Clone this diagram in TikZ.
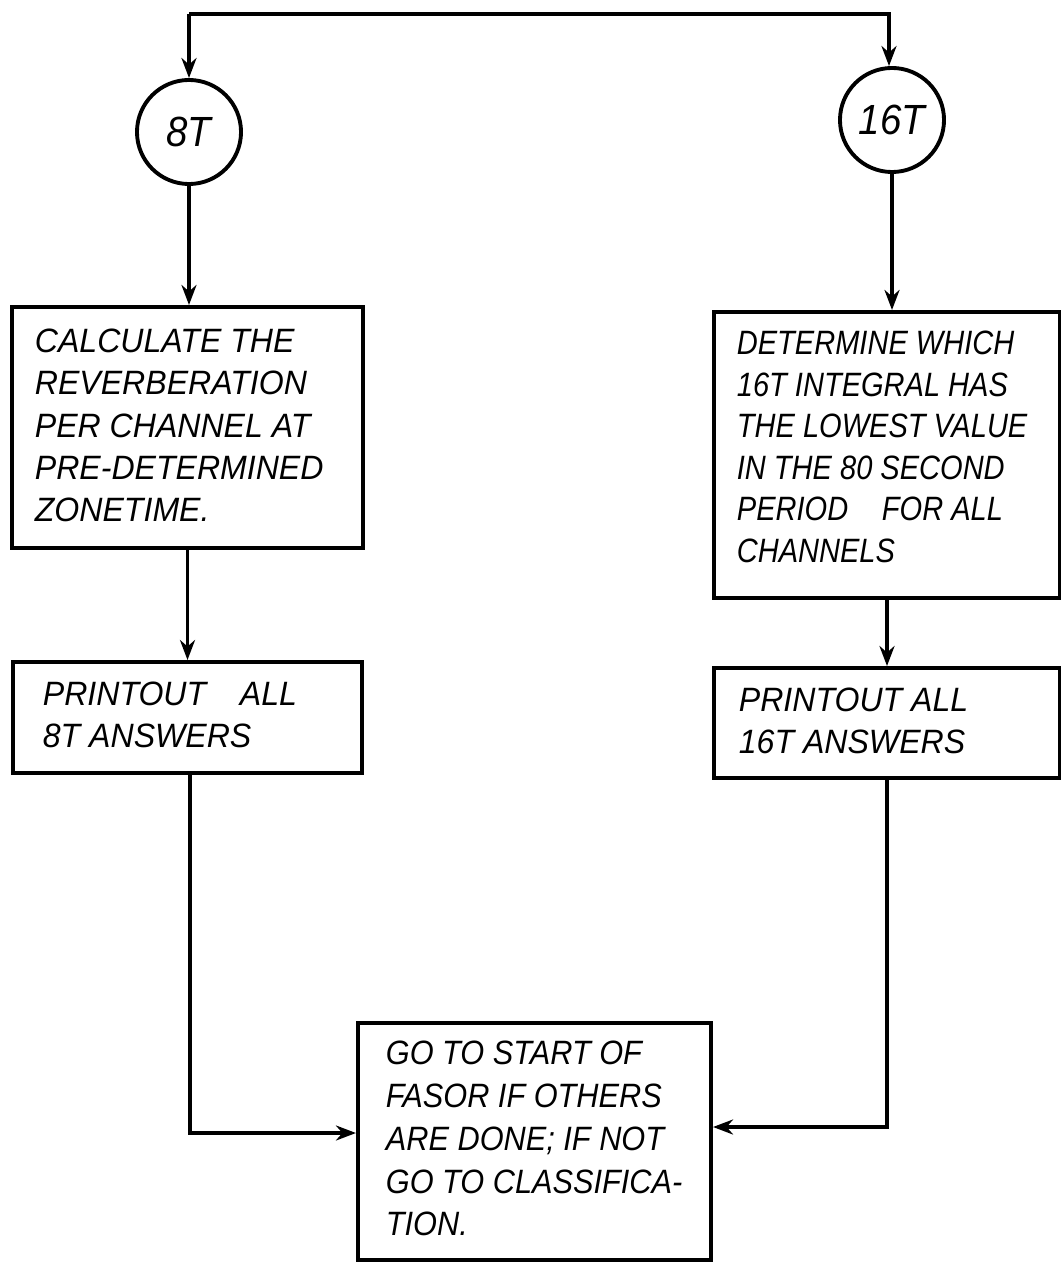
\documentclass[tikz,border=0pt]{standalone}
\usepackage{fontspec}
\setmainfont{Liberation Sans}
\newfontfamily\handA[FakeStretch=0.95]{Liberation Sans}
\newfontfamily\handB[FakeStretch=0.86]{Liberation Sans}
\newfontfamily\handC[FakeStretch=0.91]{Liberation Sans}
\usetikzlibrary{arrows.meta,calc}
\begin{document}
\begin{tikzpicture}[x=0.01cm,y=-0.01cm,
  line width=1.1pt,
  box/.style={draw, rectangle, inner sep=0pt},
  txt/.style={anchor=west, align=left, inner sep=0pt, font=\handA\itshape\fontsize{9.6}{12}\selectfont},
  txtn/.style={txt, font=\handB\itshape\fontsize{9.6}{11.8}\selectfont},
  txtm/.style={txt, font=\handC\itshape\fontsize{9.6}{12.2}\selectfont},
  conn/.style={circle, draw, minimum size=1.04cm, inner sep=0pt, font=\handC\itshape\fontsize{12}{14}\selectfont},
  arr/.style={-{Stealth[length=0.2cm,width=0.15cm]}}]
\useasboundingbox (0,0) rectangle (1061,1264);
% circles
\node[conn] (c8) at (189,132) {8T};
\node[conn] (c16) at (892,120) {16T};
% boxes
\node[box, minimum width=3.51cm, minimum height=2.41cm] (b1) at (187.5,427.5) {};
\node[box, minimum width=3.49cm, minimum height=1.11cm] (b2) at (187.5,717.5) {};
\node[box, minimum width=3.46cm, minimum height=2.86cm] (b3) at (887,455) {};
\node[box, minimum width=3.46cm, minimum height=1.10cm] (b4) at (887,723) {};
\node[box, minimum width=3.53cm, minimum height=2.37cm] (b5) at (534.5,1141.5) {};
% texts
\node[txt] (t1) at ($(b1.west)+(23,-2)$)
  {CALCULATE THE\\REVERBERATION\\PER CHANNEL AT\\PRE-DETERMINED\\ZONETIME.};
\node[txt] (t2) at ($(b2.west)+(30,-3)$)
  {PRINTOUT\quad ALL\\8T ANSWERS};
\node[txtn] (t3) at ($(b3.west)+(23,-8)$)
  {DETERMINE WHICH\\16T INTEGRAL HAS\\THE LOWEST VALUE\\IN THE 80 SECOND\\PERIOD\quad FOR ALL\\CHANNELS};
\node[txt] (t4) at ($(b4.west)+(25,-2)$)
  {PRINTOUT ALL\\16T ANSWERS};
\node[txtm] (t5) at ($(b5.west)+(28,-3)$)
  {GO TO START OF\\FASOR IF OTHERS\\ARE DONE; IF NOT\\GO TO CLASSIFICA-\\TION.};
% top line
\coordinate (tl) at (189,14);
\coordinate (tr) at (889,14);
\draw[arr] (tl) -- (tr) -- (tr |- c16.north);
\draw[arr] (tl) -- (c8.north);
% vertical flow
\draw[arr] (c8.south) -- (c8.south |- b1.north);
\draw[arr] (b1.south) -- (b2.north);
\draw[arr] (c16.south) -- (c16.south |- b3.north);
\draw[arr] (b3.south) -- (b4.north);
% bottom connectors
\coordinate (l1) at (190,1133);
\coordinate (r1) at (887,1127);
\draw[arr] (b2.south -| l1) -- (l1) -- (l1 -| b5.west);
\draw[arr] (b4.south -| r1) -- (r1) -- (r1 -| b5.east);
\end{tikzpicture}
\end{document}
